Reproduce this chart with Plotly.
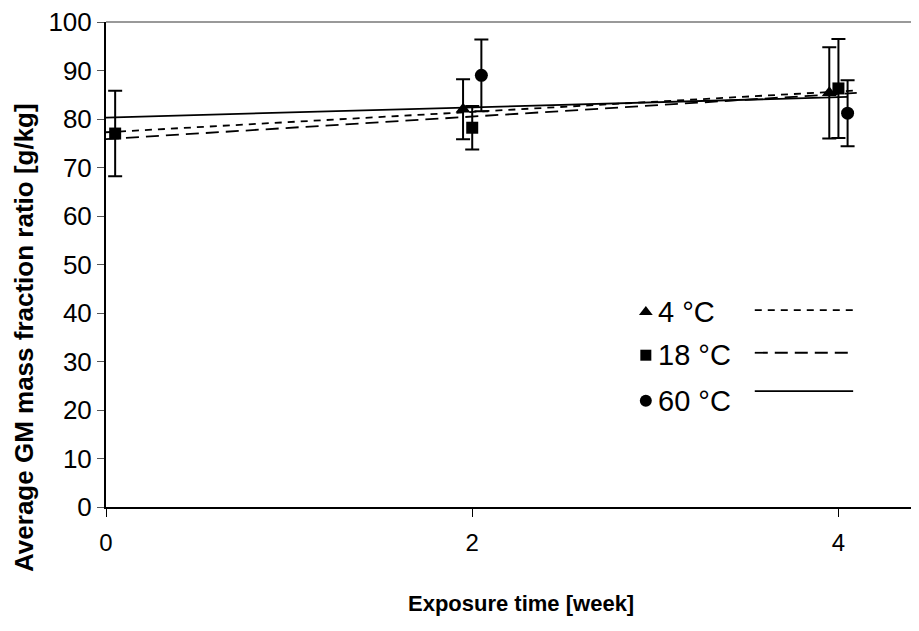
import numpy as np
import plotly.graph_objects as go

# ---- data ----
weeks = [0, 2, 4]
series_names = ["4 °C", "18 °C", "60 °C"]
vals_4 = [77.0, 82.0, 85.4]
err_4 = [8.8, 6.2, 9.4]
vals_18 = [77.0, 78.2, 86.3]
err_18 = [8.8, 4.5, 10.2]
vals_60 = [77.0, 89.0, 81.2]
err_60 = [8.8, 7.4, 6.8]
y_ticks = [0, 10, 20, 30, 40, 50, 60, 70, 80, 90, 100]
x_ticks = [0, 2, 4]

# display offsets (to separate the markers at each week)
offsets = [-0.05, 0.0, 0.05]
symbols = ["triangle-up", "square", "circle"]
msizes = [13, 12, 13]
dashes = ["7px,6px", "13px,7px", "solid"]
trend_end = [4.1, 4.1, 4.05]
all_vals = [vals_4, vals_18, vals_60]
all_errs = [err_4, err_18, err_60]

FONT = "Liberation Sans, Arial, sans-serif"

fig = go.Figure()

# trend lines (least-squares fits of each series)
for i in range(3):
    slope, icpt = np.polyfit(weeks, all_vals[i], 1)
    xs = np.array([0.0, trend_end[i]])
    fig.add_trace(go.Scatter(x=xs, y=icpt + slope * xs, mode="lines",
                             line=dict(color="black", width=1.8, dash=dashes[i]),
                             showlegend=False, hoverinfo="skip"))

# markers with error bars (week 0 shared initial value drawn once as square)
for i in range(3):
    if i == 1:
        xs = [0.05] + [w + offsets[i] for w in weeks[1:]]
        ys = all_vals[i]
        es = all_errs[i]
    else:
        xs = [w + offsets[i] for w in weeks[1:]]
        ys = all_vals[i][1:]
        es = all_errs[i][1:]
    fig.add_trace(go.Scatter(
        x=xs, y=ys, mode="markers",
        marker=dict(symbol=symbols[i], size=msizes[i], color="black"),
        error_y=dict(type="data", array=es, visible=True, color="black",
                     thickness=2, width=7),
        showlegend=False, name=series_names[i]))

# ---- manual legend on overlay axes (0..1 over the plot area) ----
leg_mx = 0.664
leg_y = [0.402, 0.313, 0.219]
line_y = [0.406, 0.318, 0.239]
for i in range(3):
    fig.add_trace(go.Scatter(x=[leg_mx], y=[leg_y[i]], mode="markers",
                             marker=dict(symbol=symbols[i], size=msizes[i] - 1, color="black"),
                             xaxis="x2", yaxis="y2", showlegend=False, hoverinfo="skip"))
    fig.add_trace(go.Scatter(x=[0.798, 0.919], y=[line_y[i], line_y[i]], mode="lines",
                             line=dict(color="black", width=1.8, dash=dashes[i]),
                             xaxis="x2", yaxis="y2", showlegend=False, hoverinfo="skip"))
    fig.add_annotation(x=0.676, y=leg_y[i], xref="x2", yref="y2", text=series_names[i],
                       showarrow=False, xanchor="left", yanchor="middle",
                       font=dict(family=FONT, size=29, color="black"))

# axis titles (positioned like the original)
fig.add_annotation(x=-0.1, y=0.35, xref="paper", yref="paper",
                   text="<b>Average GM mass fraction ratio [g/kg]</b>", textangle=-90,
                   showarrow=False, xanchor="center", yanchor="middle",
                   font=dict(family=FONT, size=26, color="black"))
fig.add_annotation(x=0.51, y=-0.198, xref="paper", yref="paper",
                   text="<b>Exposure time [week]</b>",
                   showarrow=False, xanchor="center", yanchor="middle",
                   font=dict(family=FONT, size=22, color="black"))

# top border of plot area
fig.add_shape(type="line", xref="paper", yref="paper", x0=0, x1=1, y0=1, y1=1,
              line=dict(color="#777777", width=1.5))

fig.update_layout(
    width=911, height=623,
    margin=dict(l=98, r=0, t=14, b=124),
    paper_bgcolor="white", plot_bgcolor="white",
    font=dict(family=FONT, color="black"),
    xaxis=dict(range=[0, 4.44], tickvals=x_ticks, ticktext=[str(v) for v in x_ticks],
               showgrid=False, zeroline=False, showline=True, linecolor="black", linewidth=2,
               ticks="outside", ticklen=8, tickwidth=1, tickcolor="black",
               tickfont=dict(size=24), automargin=False, ticklabelstandoff=5,
               ticklabeloverflow="allow"),
    yaxis=dict(range=[0, 100], tickvals=y_ticks, showgrid=False, zeroline=False,
               showline=True, linecolor="black", linewidth=2,
               ticks="outside", ticklen=7, tickwidth=1, tickcolor="#555555",
               tickfont=dict(size=26), automargin=False, ticklabeloverflow="allow"),
    xaxis2=dict(range=[0, 1], overlaying="x", visible=False, fixedrange=True),
    yaxis2=dict(range=[0, 1], overlaying="y", visible=False, fixedrange=True),
)

fig.write_html("out.html")
